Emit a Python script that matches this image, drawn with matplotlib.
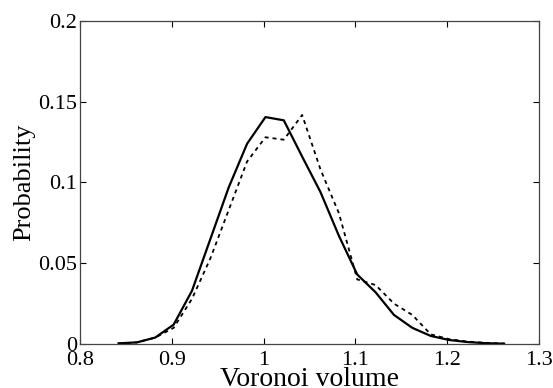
import matplotlib.pyplot as plt
from matplotlib.ticker import FixedLocator, FuncFormatter

# bin centres (Voronoi volume) and probability for the two curves
volume = [0.842, 0.862, 0.882, 0.902, 0.922, 0.942, 0.962, 0.982, 1.002, 1.022,
          1.042, 1.062, 1.082, 1.102, 1.122, 1.142, 1.162, 1.182, 1.202, 1.222,
          1.242, 1.262]
prob_solid = [0.0004, 0.001, 0.004, 0.012, 0.033, 0.065, 0.097, 0.124, 0.1405, 0.1385,
              0.116, 0.094, 0.067, 0.043, 0.032, 0.018, 0.010, 0.005, 0.0025, 0.0012,
              0.0005, 0.0002]
prob_dashed = [0.0003, 0.001, 0.004, 0.010, 0.028, 0.053, 0.083, 0.113, 0.128, 0.1265,
               0.1418, 0.108, 0.081, 0.040, 0.0365, 0.025, 0.018, 0.006, 0.003, 0.0015,
               0.0007, 0.0003]

xticks = [0.8, 0.9, 1.0, 1.1, 1.2, 1.3]
yticks = [0, 0.05, 0.1, 0.15, 0.2]

plt.rcParams['font.family'] = ['Liberation Serif', 'DejaVu Serif']

fig = plt.figure(figsize=(5.53, 3.88), dpi=100)
ax = fig.add_axes([0.1447, 0.1134, 0.8300, 0.8325])

ax.plot(volume, prob_solid, color='black', linewidth=1.6)
ax.plot(volume, prob_dashed, color='black', linewidth=1.3, linestyle=(0, (2.2, 2.2)))

ax.set_xlim(0.8, 1.3)
ax.set_ylim(0, 0.2)
ax.xaxis.set_major_locator(FixedLocator(xticks))
ax.yaxis.set_major_locator(FixedLocator(yticks))
fmt = FuncFormatter(lambda v, p: '%g' % round(v, 3))
ax.xaxis.set_major_formatter(fmt)
ax.yaxis.set_major_formatter(fmt)

ax.tick_params(direction='in', length=4, width=0.8, labelsize=16, pad=2,
               top=True, right=True)
ax.tick_params(axis='x', pad=5)
for s in ax.spines.values():
    s.set_color('#444444')
    s.set_linewidth(0.9)

ax.set_xlabel('Voronoi volume', fontsize=20)
ax.xaxis.set_label_coords(0.5, -0.072)
ax.set_ylabel('Probability', fontsize=19, labelpad=2)

fig.savefig('out.png', dpi=100)
